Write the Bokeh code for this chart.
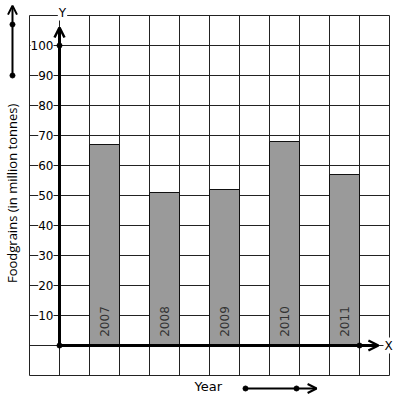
from bokeh.plotting import figure
from bokeh.models import Range1d, Arrow, OpenHead, ColumnDataSource
from bokeh.core.properties import value
from bokeh.embed import file_html
from bokeh.resources import INLINE
import numpy as np

years = ["2007", "2008", "2009", "2010", "2011"]
foodgrains = [67, 51, 52, 68, 57]
y_ticks = [10, 20, 30, 40, 50, 60, 70, 80, 90, 100]
y_title = "Foodgrains (in million tonnes)"
x_title = "Year"

# pixel mapping: x = (px - 59) / 30 cells, y = (345 - py) / 3 units
W, H = 397, 401
p = figure(width=W, height=H, output_backend="svg", toolbar_location=None,
           x_range=Range1d(-59 / 30, (W - 59) / 30), y_range=Range1d((345 - H) / 3, 345 / 3),
           min_border=0, outline_line_color=None)
p.axis.visible = False
p.grid.visible = False
p.background_fill_color = "white"
p.border_fill_color = "white"

# grid of squares
gx = np.arange(-1, 12)
p.segment(x0=gx, y0=-10, x1=gx, y1=110, line_color="#222222", line_width=1)
gy = np.arange(-10, 111, 10)
p.segment(x0=-1, y0=gy, x1=11, y1=gy, line_color="#222222", line_width=1)

# bars
bx = [2 * i + 1.5 for i in range(len(years))]
src = ColumnDataSource(dict(x=bx, top=foodgrains, year=years))
p.vbar(x="x", top="top", bottom=0, width=1, source=src,
       fill_color="#9a9a9a", line_color="#111111", line_width=1)
p.text(x="x", y=8, text="year", source=src, angle=np.pi / 2,
       text_align="center", text_baseline="middle",
       text_font=value("DejaVu Sans"), text_font_size="12px", text_color="#333333")

# axes
p.add_layout(Arrow(x_start=0, y_start=0, x_end=0, y_end=106, line_width=3,
                   end=OpenHead(size=10, line_width=2.5, line_color="black")))
p.add_layout(Arrow(x_start=0, y_start=0, x_end=10.63, y_end=0, line_width=3,
                   end=OpenHead(size=10, line_width=2.5, line_color="black")))
p.scatter(x=[0, 0, 10], y=[0, 100, 0], size=5, color="black")

# tick labels
p.text(x=-0.2, y=y_ticks, text=[str(t) for t in y_ticks],
       text_align="right", text_baseline="middle",
       text_font=value("DejaVu Sans"), text_font_size="12px", text_color="black",
       background_fill_color="white", padding=0)

# axis letters
p.text(x=[0.1], y=[111], text=["Y"], text_align="center", text_baseline="middle",
       text_font=value("DejaVu Sans"), text_font_size="12px", text_color="black",
       background_fill_color="white", padding=1)
p.text(x=[10.97], y=[0], text=["X"], text_align="center", text_baseline="middle",
       text_font=value("DejaVu Sans"), text_font_size="12px", text_color="black",
       background_fill_color="white", padding=1)

# titles
p.text(x=[-1.567], y=[50.7], text=[y_title], angle=np.pi / 2,
       text_align="center", text_baseline="middle",
       text_font=value("Open Sans"), text_font_size="13px", text_color="black")
p.text(x=[4.5], y=[-13.67], text=[x_title], text_align="left", text_baseline="middle",
       text_font=value("DejaVu Sans"), text_font_size="13px", text_color="black")

# decorative direction arrows
p.add_layout(Arrow(x_start=-1.567, y_start=90, x_end=-1.567, y_end=113.3, line_width=2,
                   end=OpenHead(size=9, line_width=2, line_color="black")))
p.scatter(x=[-1.567, -1.567], y=[90, 107], size=5, color="black")
p.add_layout(Arrow(x_start=6.2, y_start=-14.33, x_end=8.57, y_end=-14.33, line_width=2,
                   end=OpenHead(size=9, line_width=2, line_color="black")))
p.scatter(x=[6.2, 7.9], y=[-14.33, -14.33], size=5, color="black")

open("out.html", "w").write(file_html(p, INLINE))
